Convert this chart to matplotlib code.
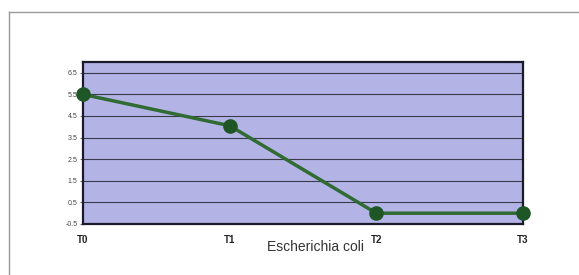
import matplotlib
matplotlib.use("Agg")
import matplotlib.pyplot as plt  # noqa: E402
from matplotlib.lines import Line2D  # noqa: E402

# values
times = ["T0", "T1", "T2", "T3"]
counts = [5.5, 4.05, 0.0, 0.0]
y_ticks = [-0.5, 0.5, 1.5, 2.5, 3.5, 4.5, 5.5, 6.5]
x_label = "Escherichia coli"

W, H = 579, 275
fig = plt.figure(figsize=(W / 100, H / 100), dpi=100)
fig.patch.set_facecolor("white")

# outer frame (top and left edges only, like the scanned page)
fig.add_artist(Line2D([9 / W, 1.0], [1 - 12 / H, 1 - 12 / H],
                      color="#999999", lw=1.0))
fig.add_artist(Line2D([9 / W, 9 / W], [0.0, 1 - 12 / H],
                      color="#999999", lw=1.0))

left, right, top, bottom = 83, 523, 62, 224
ax = fig.add_axes([left / W, 1 - bottom / H, (right - left) / W, (bottom - top) / H])
ax.set_facecolor("#b3b3e6")

x = list(range(len(times)))
ax.plot(x, counts, color="#2f6b32", lw=2.5, marker="o", markersize=9.5,
        markerfacecolor="#1f5626", markeredgecolor="#1f5626", clip_on=False, zorder=3)

ax.set_xlim(0, len(times) - 1)
ax.set_ylim(-0.5, 7.0)
ax.set_yticks(y_ticks)
ax.set_yticklabels([f"{v:g}" for v in y_ticks], fontsize=5, color="#444444",
                   family="Liberation Sans")
ax.yaxis.grid(True, color="#3a3a4a", lw=0.8)
ax.set_axisbelow(True)
ax.tick_params(axis="y", length=2, width=0.6, pad=2, color="#555555")

ax.set_xticks(x)
ax.set_xticklabels(times, fontsize=7, fontweight="bold", color="#222222",
                   family="Liberation Sans")
ax.tick_params(axis="x", length=0, pad=8)

for spine in ax.spines.values():
    spine.set_color("#1a1a2a")
    spine.set_linewidth(1.6)

ax.text(0.528, -0.145, x_label, transform=ax.transAxes, ha="center", va="center",
        fontsize=10, color="#333333", family="Liberation Sans")

fig.savefig("out.png", dpi=100)
